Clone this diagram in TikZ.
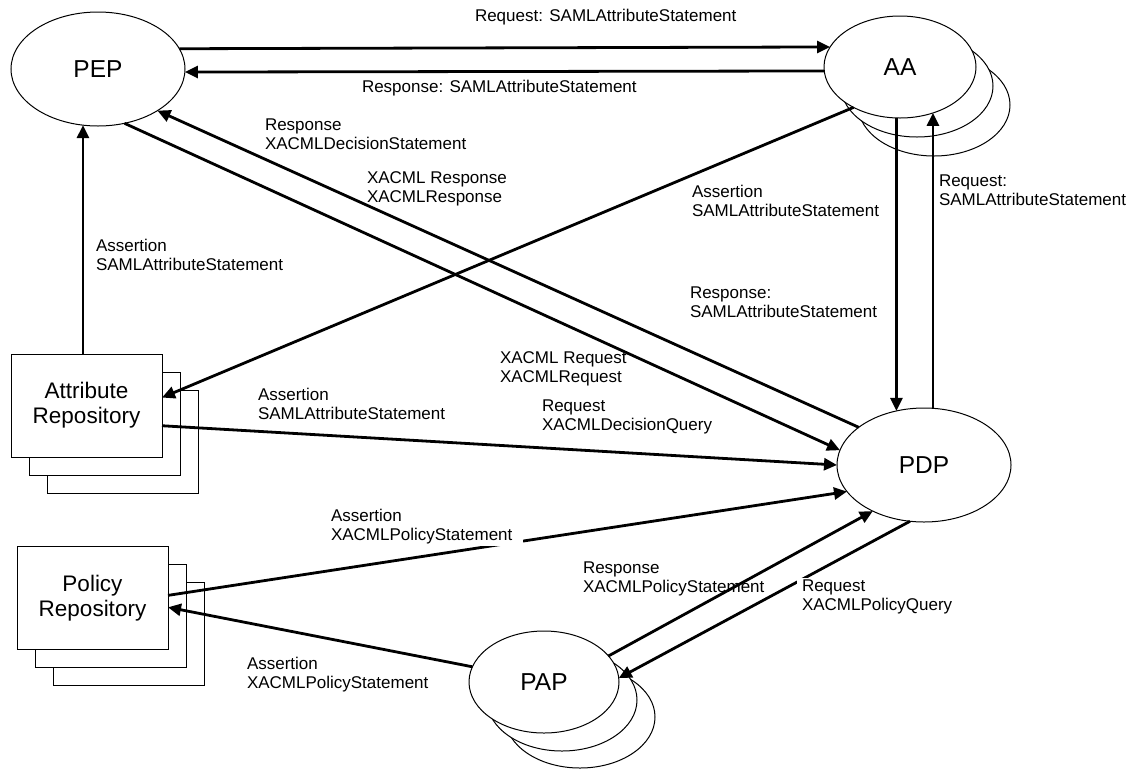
\documentclass[tikz,border=0pt]{standalone}
\usepackage{fontspec}
\setmainfont{Liberation Sans}
\usetikzlibrary{shapes.geometric,arrows.meta}
\begin{document}
\begin{tikzpicture}[x=1pt,y=-1pt,
  every node/.style={outer sep=0pt},
  ent/.style={draw, line width=1pt, fill=white, inner sep=0pt,
    font=\fontsize{22.5}{25}\selectfont, align=center},
  oval/.style={ent, ellipse, font=\fontsize{24.5}{27}\selectfont},
  bigoval/.style={oval, minimum width=174pt, minimum height=114pt},
  smalloval/.style={oval, minimum width=152pt, minimum height=102pt},
  repo/.style={ent, rectangle, minimum width=151pt, minimum height=103pt},
  flow/.style={line width=2.8pt, -{Triangle[length=13pt,width=12pt]}},
  lbl/.style={font=\fontsize{17}{19}\selectfont, align=left, anchor=west, inner sep=0pt},
  lblbox/.style={lbl, fill=white, inner ysep=2pt}
]
\useasboundingbox (0,0) rectangle (1134,769);

% enforcement point and attribute authority (with stacked copies)
\node[bigoval] (PEP) at (98,69) {PEP};
\node[smalloval] (AA3) at (934,105) {};
\node[smalloval] (AA2) at (917,86) {};
\node[smalloval] (AA) at (900,67) {AA};

% decision point
\node[bigoval] (PDP) at (924,465) {PDP};

% administration point (stacked)
\node[oval, minimum width=150pt, minimum height=102pt] (PAP3) at (580,717) {};
\node[oval, minimum width=150pt, minimum height=102pt] (PAP2) at (562,700) {};
\node[oval, minimum width=150pt, minimum height=102pt] (PAP) at (544,682) {PAP};

% repositories (stacked)
\node[repo] (AR3) at (122.5,441.5) {};
\node[repo] (AR2) at (104.5,423.5) {};
\node[repo] (AR) at (86.5,405.5) {Attribute\\Repository};
\node[repo] (PR3) at (128.5,634) {};
\node[repo] (PR2) at (110.5,616) {};
\node[repo] (PR) at (92.5,598) {Policy\\Repository};

% message labels
\node[lbl] (l1) at (475,17) {Request: SAMLAttributeStatement};
\node[lbl] (l2) at (362,88) {Response: SAMLAttributeStatement};
\node[lbl] (l3) at (265,134) {Response\\XACMLDecisionStatement};
\node[lbl] (l4) at (367,189) {XACML Response\\XACMLResponse};
\node[lbl] (l5) at (96,255) {Assertion\\SAMLAttributeStatement};
\node[lbl] (l6) at (692,201) {Assertion\\SAMLAttributeStatement};
\node[lbl] (l7) at (939,190) {Request:\\SAMLAttributeStatement};
\node[lbl] (l8) at (690,302) {Response:\\SAMLAttributeStatement};
\node[lbl] (l9) at (500,369) {XACML Request\\XACMLRequest};
\node[lbl] (l10) at (542,417) {Request\\XACMLDecisionQuery};
\node[lbl] (l11) at (258,404) {Assertion\\SAMLAttributeStatement};
\node[lbl] (l13) at (583,579) {Response\\XACMLPolicyStatement};
\node[lbl] (l15) at (247,675) {Assertion\\XACMLPolicyStatement};

% message flows
\draw[flow] (PEP.14.5) -- (AA.164.9);
\draw[flow] (AA.183.8) -- (PEP.-2);
\draw[flow] (PDP.150.8) -- (PEP.-35.4);
\draw[flow] (PEP.-64.7) -- (PDP.170.2);
\draw[flow] (AR.north -| PEP.-105) -- (PEP.-105);
\draw[flow] (AA.221.6) -- (AR.6.4);
\draw[flow] (AR.-15.2) -- (PDP.west);
\draw[flow] (PR.2.3) -- (PDP.199.1);
\draw[flow] (PAP.168.5) -- (PR.-7.5);
\draw[flow] (PAP.22.9) -- (PDP.222.4);
\draw[flow] (PDP.256.2) -- (PAP.3.8);
\draw[flow] (AA.-94.5) -- (AA.-94.5 |- PDP.117.4);
\draw[flow] (PDP.81) -- (PDP.81 |- AA.-54.3);

% labels with an opaque background
\node[lblbox, inner xsep=11pt] (l12) at (320,527) {Assertion\\XACMLPolicyStatement};
\node[lblbox, inner xsep=5pt] (l14) at (797,597) {Request\\XACMLPolicyQuery};
\end{tikzpicture}
\end{document}
